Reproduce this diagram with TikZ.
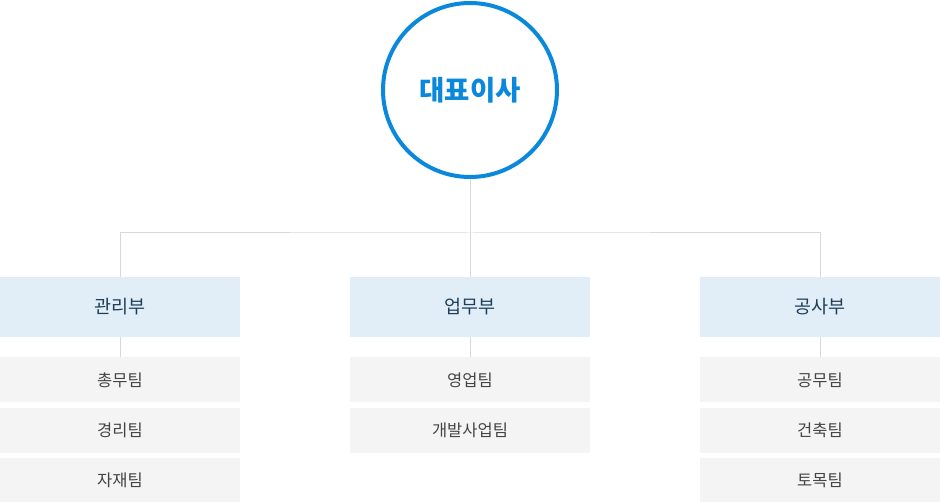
\documentclass[tikz,border=0pt]{standalone}
\usepackage{fontspec}
\newfontfamily\krfont{Noto Sans CJK KR}
\usetikzlibrary{positioning}
\definecolor{ceoblue}{HTML}{0A88DC}
\definecolor{deptfill}{HTML}{E1EEF8}
\definecolor{teamfill}{HTML}{F4F4F4}
\definecolor{linegray}{HTML}{D8D8D8}
\definecolor{depttext}{HTML}{1F3D58}
\definecolor{teamtext}{HTML}{444444}
\tikzset{ceo/.style={circle,draw=ceoblue,line width=4pt,minimum size=174pt,inner sep=0pt,
                     text=ceoblue,font=\krfont\bfseries\fontsize{27.5}{32}\selectfont},
         dept/.style={fill=deptfill,minimum width=240pt,minimum height=60pt,inner sep=0pt,
                      text=depttext,font=\krfont\fontsize{18.5}{22}\selectfont},
         team/.style={fill=teamfill,minimum width=240pt,minimum height=45pt,inner sep=0pt,
                      text=teamtext,font=\krfont\fontsize{16.5}{20}\selectfont},
         link/.style={draw=linegray,line width=1pt}}

\begin{document}
\begin{tikzpicture}[x=1pt,y=-1pt]
\useasboundingbox (0,0) rectangle (940,502);
\node[ceo] (ceo) at (470,90) {대표이사};
% departments
\node[dept] (admin) at (120,307) {관리부};
\node[dept] (biz) at (470,307) {업무부};
\node[dept] (work) at (820,307) {공사부};
% teams
\node[team,below=20pt of admin] (admin1) {총무팀};
\node[team,below=5pt of admin1] (admin2) {경리팀};
\node[team,below=5pt of admin2] (admin3) {자재팀};
\node[team,below=20pt of biz] (biz1) {영업팀};
\node[team,below=5pt of biz1] (biz2) {개발사업팀};
\node[team,below=20pt of work] (work1) {공무팀};
\node[team,below=5pt of work1] (work2) {건축팀};
\node[team,below=5pt of work2] (work3) {토목팀};
% connectors
\coordinate (split) at (470,233);
\draw[link] (ceo.south) -- (split);
\draw[link] (admin.north) |- (split) -| (work.north);
\draw[link] (split) -- (biz.north);
\foreach \d in {admin,biz,work}
  \draw[link] (\d.south) -- (\d1.north);
\end{tikzpicture}
\end{document}
